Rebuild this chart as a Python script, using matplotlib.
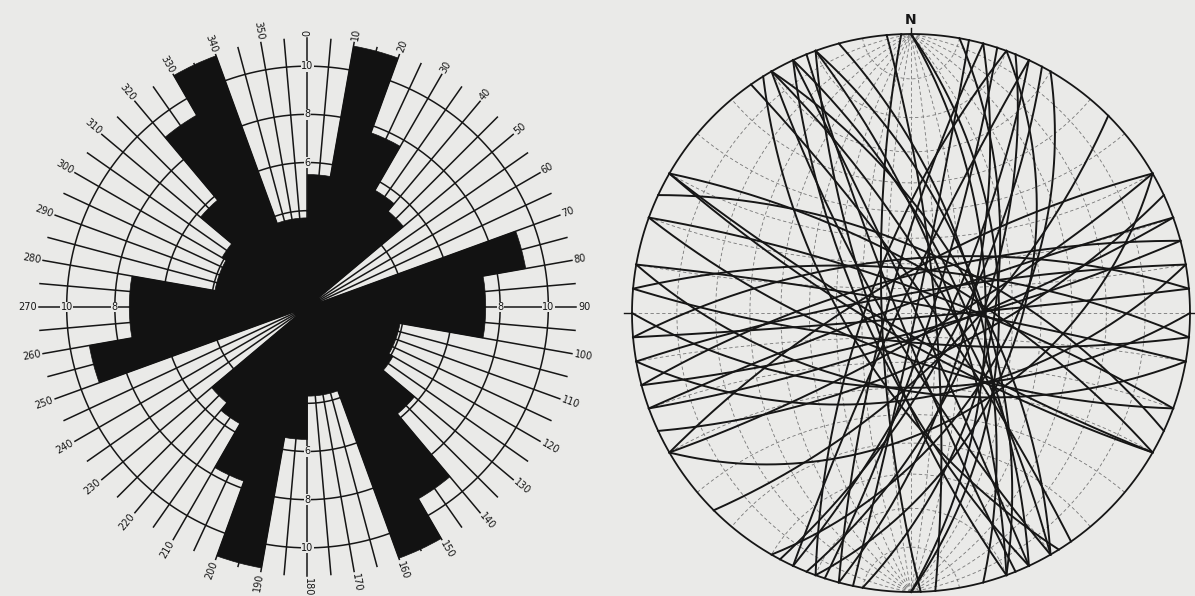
import numpy as np
import matplotlib
matplotlib.use("Agg")
import matplotlib.pyplot as plt

# rose diagram: 10 degree bins (bidirectional), lengths
bin_start = [0, 10, 20, 30, 40, 50, 60, 70, 80, 90, 100, 110, 120, 130, 140, 150, 160, 170]
counts = [5.5, 11.0, 7.7, 5.6, 5.2, 0.6, 0.6, 9.2, 7.4, 7.4, 3.9, 3.9, 4.1, 5.8, 9.2, 11.1, 3.7, 3.7]
ring_values = [4, 6, 8, 10]
ring_labels_ns = [6, 8, 10]
ring_labels_ew = [8, 10]

# stereonet great circles (strike, dip - right hand rule)
strikes = [330, 335, 340, 15, 22, 28, 0, 300, 60, 75, 280, 45,
           330, 340, 345, 10, 20, 30, 60, 80, 100, 90, 120, 0,
           150, 155, 158, 325, 335, 160, 148,
           195, 200, 205, 18, 25, 12,
           255, 260, 265, 250, 95, 275, 85, 70, 240, 65,
           290, 120, 295, 110, 178, 355]
dips = [64, 69, 62, 67, 63, 71, 60, 72, 80, 82, 86, 69,
        75, 73, 63, 57, 48, 52, 46, 56, 59, 60, 79, 55,
        80, 72, 85, 82, 88, 75, 65,
        80, 72, 85, 82, 76, 88,
        75, 82, 68, 86, 78, 72, 88, 80, 75, 70,
        80, 82, 65, 72, 78, 80]

bg = '#eaeae8'
ink = '#161616'
fig = plt.figure(figsize=(11.95, 5.96), dpi=100, facecolor=bg)

# ---------- rose diagram ----------
ax = fig.add_axes([0.01548, 0.0, 0.48368, 0.96980], projection='polar')
ax.set_theta_zero_location('N')
ax.set_theta_direction(-1)
ax.set_ylim(0, 12)
ax.set_axis_off()

t = np.linspace(0, 2 * np.pi, 500)
for v in ring_values:
    ax.plot(t, np.full_like(t, v), color=ink, lw=1.1, zorder=1)
for a in range(0, 360, 5):
    ax.plot([np.deg2rad(a)] * 2, [0, 11.15], color=ink, lw=1.1, zorder=1)

starts = np.array(bin_start, dtype=float)
vals = np.array(counts)
for off in (0, 180):
    ax.bar(np.deg2rad(starts + off + 5), vals, width=np.deg2rad(10), bottom=0,
           color='#121212', edgecolor='#121212', lw=0.5, zorder=2)

for b in range(0, 360, 10):
    if b <= 180:
        rot, ha = 90 - b, 'left'
    else:
        rot, ha = 270 - b, 'right'
    ax.text(np.deg2rad(b), 11.25, str(b), rotation=rot, rotation_mode='anchor',
            ha=ha, va='center', fontsize=7, color=ink, zorder=4)

box = dict(facecolor=bg, edgecolor='none', pad=0.3)
for v in ring_labels_ns:
    for a in (0, 180):
        ax.text(np.deg2rad(a), v, str(v), ha='center', va='center', fontsize=7,
                color=ink, bbox=box, zorder=5)
for v in ring_labels_ew:
    for a in (90, 270):
        ax.text(np.deg2rad(a), v, str(v), ha='center', va='center', fontsize=7,
                color=ink, bbox=box, zorder=5)

# ---------- stereonet (equal angle, lower hemisphere) ----------
R = 279.0
sx = fig.add_axes([620 / 1195, 0, 575 / 1195, 1])
sx.set_xlim(-291, 284)
sx.set_ylim(-283, 313)
sx.set_axis_off()


def proj(e, n, d):
    return R * e / (1 + d), R * n / (1 + d)


def great_circle(s, d, n=300):
    s, d = np.deg2rad(s), np.deg2rad(d)
    lam = np.linspace(0, np.pi, n)
    sv = np.array([np.sin(s), np.cos(s), 0.0])
    dv = np.array([np.cos(d) * np.sin(s + np.pi / 2), np.cos(d) * np.cos(s + np.pi / 2), np.sin(d)])
    L = np.outer(np.cos(lam), sv) + np.outer(np.sin(lam), dv)
    return proj(L[:, 0], L[:, 1], L[:, 2])


grid_kw = dict(color='#777777', lw=0.6, dashes=(4, 3), zorder=1)
for dd in range(10, 90, 10):
    for s in (0, 180):
        x, y = great_circle(s, dd)
        sx.plot(x, y, **grid_kw)
phi = np.linspace(0, np.pi, 300)
for al in range(10, 180, 10):
    a = np.deg2rad(al)
    x, y = proj(np.sin(a) * np.cos(phi), np.full_like(phi, np.cos(a)), np.sin(a) * np.sin(phi))
    sx.plot(x, y, **grid_kw)
sx.plot([0, 0], [-R, R], **grid_kw)

for s, d in zip(strikes, dips):
    x, y = great_circle(s, d)
    sx.plot(x, y, color=ink, lw=1.4, zorder=2)

sx.plot(R * np.cos(t), R * np.sin(t), color=ink, lw=1.3, zorder=3)
sx.plot([-R - 8, -R], [0, 0], color=ink, lw=1.0)
sx.plot([R, R + 8], [0, 0], color=ink, lw=1.0)
sx.plot([0, 0], [R, R + 6], color=ink, lw=1.0)
sx.text(0, R + 14, 'N', ha='center', va='center', fontsize=10, fontweight='bold', color=ink)

fig.savefig('out.png', dpi=100, facecolor=bg)
